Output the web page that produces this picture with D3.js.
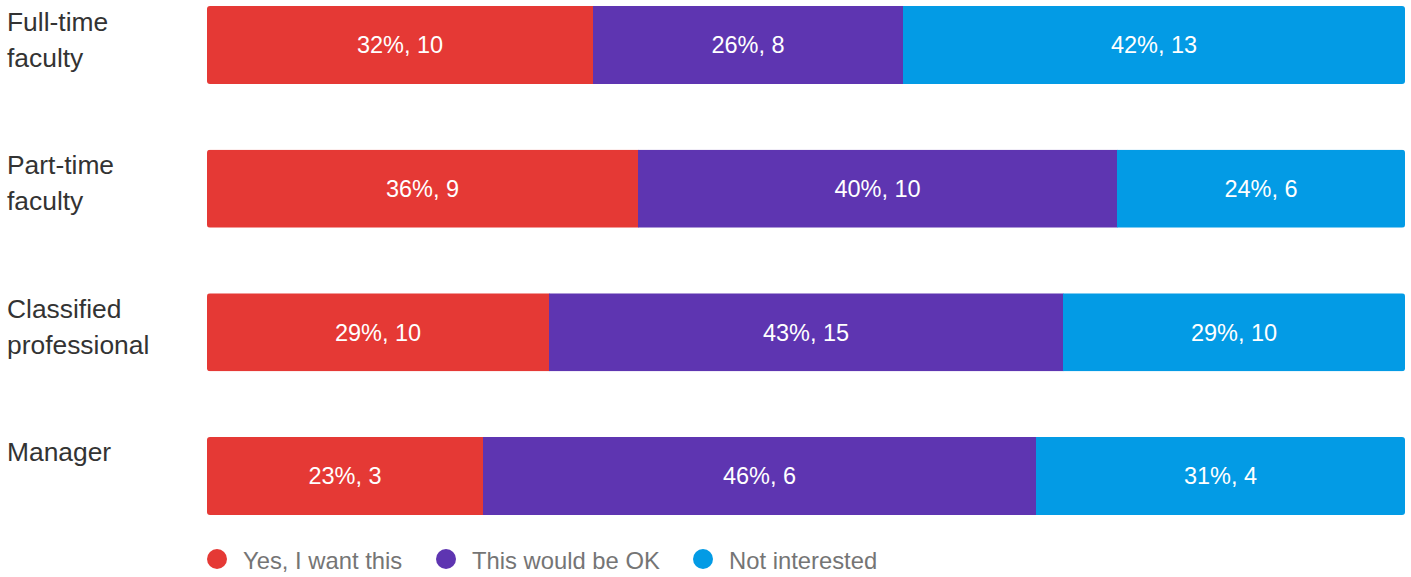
<!DOCTYPE html>
<html lang="en">
    <head>
        <meta charset="UTF-8" />
        <title>Stacked bars</title>
        <style>
            html,
            body {
                margin: 0;
                background: #fff;
            }
            svg text {
                font-family: "Liberation Sans", Arial, Helvetica, sans-serif;
            }
            .cat {
                font-size: 26.4px;
                fill: #333;
            }
            .val {
                font-size: 23.5px;
                fill: #fff;
            }
            .leg {
                font-size: 23.8px;
                fill: #757575;
            }
        </style>
    </head>
    <body>
        <div id="chart"></div>
        <script src="https://cdnjs.cloudflare.com/ajax/libs/d3/7.8.5/d3.min.js"></script>
        <script>
            const width = 1411;
            const height = 577;

            const categories = [
                ["Full-time", "faculty"],
                ["Part-time", "faculty"],
                ["Classified", "professional"],
                ["Manager"]
            ];
            const seriesNames = ["Yes, I want this", "This would be OK", "Not interested"];
            const seriesColors = ["#e53935", "#5e35b1", "#039be5"];
            // counts per category, in series order
            const yesCounts = [10, 9, 10, 3];
            const okCounts = [8, 10, 15, 6];
            const noCounts = [13, 6, 10, 4];

            const rows = categories.map((c, i) => {
                const counts = [yesCounts[i], okCounts[i], noCounts[i]];
                const total = d3.sum(counts);
                let acc = 0;
                const segs = counts.map((v, j) => {
                    const s = { key: j, count: v, start: acc / total, end: (acc + v) / total };
                    acc += v;
                    return s;
                });
                return { id: i, label: c, segs: segs };
            });

            const svg = d3
                .select("#chart")
                .append("svg")
                .attr("width", width)
                .attr("height", height);

            const x = d3.scaleLinear().domain([0, 1]).range([207, 1405]).interpolate(d3.interpolateRound);
            const y = d3
                .scaleBand()
                .domain(rows.map(r => r.id))
                .range([6, 515])
                .paddingInner(0.457)
                .paddingOuter(0);

            const defs = svg.append("defs");
            defs.selectAll("clipPath")
                .data(rows)
                .join("clipPath")
                .attr("id", d => "clip" + d.id)
                .append("rect")
                .attr("x", x(0))
                .attr("y", d => y(d.id))
                .attr("width", x(1) - x(0))
                .attr("height", y.bandwidth())
                .attr("rx", 3);

            const row = svg
                .selectAll(".row")
                .data(rows)
                .join("g")
                .attr("class", "row");

            row.append("g")
                .attr("clip-path", d => `url(#clip${d.id})`)
                .selectAll("rect")
                .data(d => d.segs.map(s => Object.assign({ row: d.id }, s)))
                .join("rect")
                .attr("x", d => x(d.start))
                .attr("y", d => y(d.row))
                .attr("width", d => x(d.end) - x(d.start) + (d.key < 2 ? 0.5 : 0))
                .attr("height", y.bandwidth())
                .attr("fill", d => seriesColors[d.key]);

            row.selectAll(".val")
                .data(d => d.segs.map(s => Object.assign({ row: d.id }, s)))
                .join("text")
                .attr("class", "val")
                .attr("text-anchor", "middle")
                .attr("x", d => (x(d.start) + x(d.end)) / 2)
                .attr("y", d => y(d.row) + y.bandwidth() / 2)
                .attr("dy", "0.36em")
                .text(d => `${Math.round((d.end - d.start) * 100)}%, ${d.count}`);

            row.append("text")
                .attr("class", "cat")
                .attr("x", 7)
                .attr("y", d => y(d.id) + 24.5)
                .selectAll("tspan")
                .data(d => d.label)
                .join("tspan")
                .attr("x", 7)
                .attr("dy", (d, i) => (i === 0 ? 0 : 36))
                .text(d => d);

            const legendX = [217, 446, 703];
            const legend = svg
                .selectAll(".legend")
                .data(seriesNames)
                .join("g")
                .attr("class", "legend")
                .attr("transform", (d, i) => `translate(${legendX[i]},559)`);

            legend.append("circle")
                .attr("r", 10)
                .attr("fill", (d, i) => seriesColors[i]);

            legend.append("text")
                .attr("class", "leg")
                .attr("x", 26)
                .attr("y", 9.5)
                .text(d => d);
        </script>
    </body>
</html>
